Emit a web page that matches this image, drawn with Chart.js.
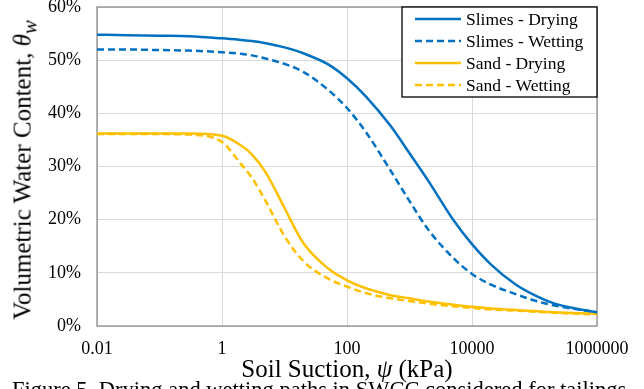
<!DOCTYPE html>
<html><head><meta charset="utf-8">
<script src="https://cdn.jsdelivr.net/npm/chart.js@4.4.1/dist/chart.umd.min.js"></script>
<style>
html,body{margin:0;padding:0;background:#fff;overflow:hidden;}
#wrap{position:relative;width:644px;height:389px;overflow:hidden;font-family:"Liberation Serif","Times New Roman",serif;color:#000;}
canvas{position:absolute;left:0;top:0;}
.xt{position:absolute;left:97px;width:500px;text-align:center;top:356px;font-size:25px;line-height:1;white-space:nowrap;}
.yt{position:absolute;left:25px;top:170px;font-size:25px;line-height:1;white-space:nowrap;transform:translate(-50%,-50%) rotate(-90deg);}
.cap{position:absolute;left:12px;top:379px;font-size:22.5px;line-height:1;white-space:nowrap;}
</style></head>
<body><div id="wrap"><canvas id="c" width="644" height="389"></canvas>
<div class="xt">Soil Suction, <i>ψ</i> (kPa)</div>
<div class="yt">Volumetric Water Content, <i>θ<sub>w</sub></i></div>
<div class="cap">Figure 5. Drying and wetting paths in SWCC considered for tailings</div>
</div>
<script>
const xTicks = [0.01, 1, 100, 10000, 1000000];
const psi = [0.01, 0.03, 0.1, 0.3, 1, 2, 3, 5, 10, 20, 50, 100, 200, 500, 1000, 2000, 5000, 10000, 20000, 50000, 100000, 200000, 500000, 1000000];
const slimesDrying = [54.8, 54.7, 54.6, 54.5, 54.1, 53.8, 53.6, 53.2, 52.4, 51.3, 49.2, 46.6, 43.2, 37.6, 32.5, 27.3, 20.0, 15.4, 11.6, 7.8, 5.8, 4.3, 3.2, 2.6];
const slimesWetting = [52.0, 52.0, 51.9, 51.8, 51.5, 51.2, 50.9, 50.3, 49.3, 47.8, 44.4, 41.0, 36.5, 29.2, 23.5, 18.1, 12.8, 9.8, 7.8, 6.0, 4.8, 3.9, 3.1, 2.6];
const sandDrying = [36.2, 36.2, 36.2, 36.2, 35.8, 34.0, 32.3, 28.9, 22.2, 15.6, 10.8, 8.6, 7.1, 5.8, 5.2, 4.6, 4.0, 3.6, 3.3, 3.0, 2.8, 2.6, 2.4, 2.3];
const sandWetting = [36.1, 36.1, 36.1, 36.0, 34.6, 30.5, 27.9, 23.5, 16.9, 12.2, 8.9, 7.4, 6.2, 5.2, 4.7, 4.2, 3.7, 3.4, 3.1, 2.9, 2.7, 2.5, 2.3, 2.2];
const seriesNames = ['Slimes - Drying', 'Slimes - Wetting', 'Sand - Drying', 'Sand - Wetting'];

const BLUE = '#0070C0', GOLD = '#FFC000';
const pts = arr => psi.map((p, i) => ({x: p, y: arr[i]}));
function ds(label, arr, color, dashed) {
  return {label, data: pts(arr), borderColor: color, backgroundColor: color, borderWidth: 2.5,
    borderDash: dashed ? [7, 4] : [], pointRadius: 0, cubicInterpolationMode: 'monotone', fill: false};
}

const frame = {
  id: 'frame',
  beforeDatasetsDraw(chart) {
    const {ctx, chartArea: a} = chart;
    ctx.save();
    ctx.strokeStyle = '#8c8c8c'; ctx.lineWidth = 1.3;
    ctx.strokeRect(a.left, a.top, a.right - a.left, a.bottom - a.top);
    ctx.restore();
  }
};
const boxLegend = {
  id: 'boxLegend',
  afterDatasetsDraw(chart) {
    const {ctx, chartArea: a} = chart;
    const w = 195, h = 90, x = a.right - w, y = a.top;
    ctx.save();
    ctx.fillStyle = '#fff'; ctx.fillRect(x, y, w, h);
    ctx.strokeStyle = '#000'; ctx.lineWidth = 1.3;
    ctx.strokeRect(x, y, w, h);
    chart.data.datasets.forEach((d, i) => {
      const cy = y + 12 + i * 22;
      ctx.beginPath();
      ctx.setLineDash(d.borderDash || []);
      ctx.strokeStyle = d.borderColor; ctx.lineWidth = d.borderWidth;
      ctx.moveTo(x + 13, cy); ctx.lineTo(x + 59, cy); ctx.stroke();
      ctx.setLineDash([]);
      ctx.fillStyle = '#000'; ctx.font = '17.5px "Liberation Serif"';
      ctx.textBaseline = 'middle'; ctx.textAlign = 'left';
      ctx.fillText(d.label, x + 64, cy + 1);
    });
    ctx.restore();
  }
};

new Chart(document.getElementById('c'), {
  type: 'line',
  data: {datasets: [
    ds(seriesNames[0], slimesDrying, BLUE, false),
    ds(seriesNames[1], slimesWetting, BLUE, true),
    ds(seriesNames[2], sandDrying, GOLD, false),
    ds(seriesNames[3], sandWetting, GOLD, true)
  ]},
  options: {
    responsive: false, animation: false, devicePixelRatio: 1,
    layout: {padding: {top: 7, right: 47, left: 0, bottom: 0}},
    plugins: {legend: {display: false}, tooltip: {enabled: false}},
    scales: {
      x: {
        type: 'logarithmic', min: 0.01, max: 1000000,
        afterBuildTicks: s => { s.ticks = xTicks.map(v => ({value: v})); },
        afterFit: s => { s.height = 63; },
        grid: {color: '#d9d9d9', lineWidth: 1, drawTicks: false},
        border: {display: false},
        ticks: {autoSkip: false, maxRotation: 0, padding: 12, color: '#000',
          font: {family: '"Liberation Serif"', size: 18},
          callback: v => String(v)}
      },
      y: {
        min: 0, max: 60,
        afterFit: s => { s.width = 97; s.paddingTop = 0; s.paddingBottom = 0; },
        grid: {color: '#d9d9d9', lineWidth: 1, drawTicks: false},
        border: {display: false},
        ticks: {stepSize: 10, padding: 16, color: '#000',
          font: {family: '"Liberation Serif"', size: 18},
          callback: v => v + '%'}
      }
    }
  },
  plugins: [frame, boxLegend]
});
</script>
</body></html>
